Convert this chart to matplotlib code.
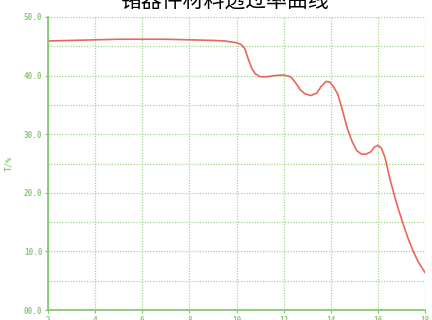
import matplotlib
matplotlib.use("Agg")
import matplotlib.pyplot as plt
from matplotlib.ticker import FuncFormatter

plt.rcParams['font.family'] = ['Noto Sans CJK SC', 'DejaVu Sans']

# wavelength (um) and transmittance (%)
wavelength = [2.0, 3.0, 4.0, 5.0, 6.0, 7.0, 8.0, 9.0, 9.5, 10.0, 10.2, 10.35, 10.5,
              10.65, 10.8, 11.0, 11.3, 11.6, 12.0, 12.3, 12.5, 12.7, 12.9, 13.15,
              13.4, 13.6, 13.8, 13.95, 14.1, 14.3, 14.5, 14.7, 14.9, 15.1, 15.3,
              15.5, 15.7, 15.85, 16.0, 16.15, 16.3, 16.5, 16.7, 16.9, 17.1, 17.3,
              17.5, 17.7, 17.9, 18.0]
transmit = [45.9, 46.0, 46.1, 46.2, 46.2, 46.2, 46.1, 46.0, 45.9, 45.6, 45.3, 44.6, 42.8,
            41.2, 40.3, 39.8, 39.8, 40.0, 40.1, 39.8, 38.8, 37.6, 36.9, 36.6,
            37.0, 38.2, 39.0, 38.9, 38.2, 36.8, 34.0, 31.0, 28.8, 27.2, 26.6,
            26.6, 27.0, 27.8, 28.1, 27.6, 26.0, 22.5, 19.5, 16.8, 14.3, 12.0,
            10.0, 8.3, 7.0, 6.4]

x_ticks = [2, 4, 6, 8, 10, 12, 14, 16, 18]
y_ticks = [0, 10, 20, 30, 40, 50]

green = '#7cc46a'
grid_green = '#a3d98a'
label_green = '#8fc77e'

fig = plt.figure(figsize=(4.32, 3.2), dpi=100)
ax = fig.add_axes([0.111, 0.031, 0.873, 0.916])

ax.plot(wavelength, transmit, color='#e8675d', linewidth=1.2)

ax.set_xlim(2, 18)
ax.set_ylim(0, 50)
ax.set_xticks(x_ticks)
ax.set_yticks(y_ticks)
ax.set_yticks([5, 15, 25, 35, 45], minor=True)
ax.yaxis.set_major_formatter(FuncFormatter(lambda v, p: '%04.1f' % v))
ax.grid(True, which='both', color=grid_green, linestyle=(0, (1, 1.2)), linewidth=0.9)
ax.tick_params(axis='y', which='minor', length=0)
ax.tick_params(axis='both', which='major', length=2, color=green, labelcolor=label_green,
               labelsize=5.5, pad=2)
for lab in ax.get_xticklabels() + ax.get_yticklabels():
    lab.set_family('DejaVu Sans Mono')
    lab.set_weight('bold')

for side in ['top', 'right']:
    ax.spines[side].set_visible(False)
for side in ['left', 'bottom']:
    ax.spines[side].set_color(green)
    ax.spines[side].set_linewidth(1.2)

ax.set_ylabel('T/%', color=label_green, fontsize=6, family='DejaVu Sans Mono',
              weight='bold', labelpad=8)
fig.text(0.519, 0.997, '锗器件材料透过率曲线', ha='center', va='center', fontsize=15)

fig.savefig('out.png', dpi=100)
